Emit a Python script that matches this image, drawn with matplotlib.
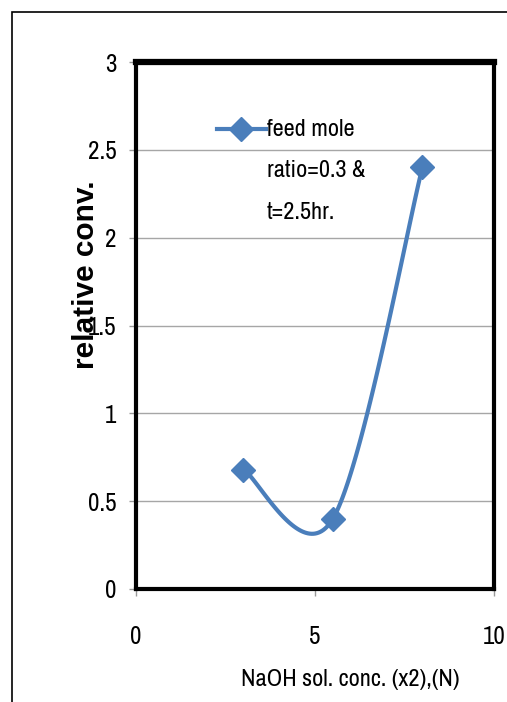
import numpy as np
import matplotlib
matplotlib.use("Agg")
import matplotlib.pyplot as plt
from matplotlib.legend_handler import HandlerLine2D
from matplotlib.patches import Rectangle

# NaOH concentration vs relative conversion
naoh_conc = [3.0, 5.5, 8.0]
rel_conv = [0.68, 0.40, 2.40]
series_label = "feed mole\nratio=0.3 &\nt=2.5hr."

x_ticks = [0, 5, 10]
y_ticks = [0, 0.5, 1, 1.5, 2, 2.5, 3]

narrow = ["Archivo Narrow", "DejaVu Sans"]
blue = "#4A7EBB"


def smooth_curve(xs, ys, n=60):
    # cubic bezier segments, tangents from neighbouring points (spreadsheet-style smoothing)
    pts = np.column_stack([xs, ys]).astype(float)
    out = []
    for i in range(len(pts) - 1):
        p0 = pts[max(i - 1, 0)]
        p1 = pts[i]
        p2 = pts[i + 1]
        p3 = pts[min(i + 2, len(pts) - 1)]
        c1 = p1 + (p2 - p0) / 6.0
        c2 = p2 - (p3 - p1) / 6.0
        t = np.linspace(0, 1, n)[:, None]
        seg = ((1 - t) ** 3) * p1 + 3 * ((1 - t) ** 2) * t * c1 + 3 * (1 - t) * t ** 2 * c2 + t ** 3 * p2
        out.append(seg if i == 0 else seg[1:])
    out = np.vstack(out)
    return out[:, 0], out[:, 1]


class TopLineHandler(HandlerLine2D):
    # put the legend key next to the first line of a multi-line label
    def create_artists(self, legend, orig_handle, xdescent, ydescent,
                       width, height, fontsize, trans):
        return super().create_artists(legend, orig_handle, xdescent, ydescent - 60,
                                      width, height, fontsize, trans)


fig = plt.figure(figsize=(5.07, 7.02), dpi=100)
ax = fig.add_axes([136 / 507, 1 - 589 / 702, 358 / 507, 527 / 702])

sx, sy = smooth_curve(naoh_conc, rel_conv)
ax.plot(sx, sy, color=blue, lw=3, solid_capstyle="round", zorder=3)
ax.plot(naoh_conc, rel_conv, ls="none", marker="D", ms=12.5, color=blue, zorder=4)
key, = ax.plot([], [], color=blue, lw=3, marker="D", ms=12.5, label=series_label)

ax.set_xlim(0, 10)
ax.set_ylim(0, 3)
ax.set_xticks(x_ticks)
ax.set_yticks(y_ticks)
ax.set_xticklabels([str(v) for v in x_ticks], family=narrow, fontsize=18)
ax.set_yticklabels([f"{v:g}" for v in y_ticks], family=narrow, fontsize=18)
ax.tick_params(axis="y", length=5, color="#999999", width=1, pad=9)
ax.tick_params(axis="x", length=5, color="#999999", width=1, pad=21)
ax.yaxis.grid(True, color="#a6a6a6", lw=1)
ax.set_axisbelow(True)

for side in ["left", "bottom", "right"]:
    ax.spines[side].set_linewidth(3)
ax.spines["top"].set_linewidth(4.5)

ax.set_xlabel("NaOH sol. conc. (x2),(N)", family=narrow, fontsize=17.5)
ax.xaxis.set_label_coords(0.598, -0.151)
# y axis title placed by its centre
ax.text(-0.140, 0.596, "relative conv.", transform=ax.transAxes, rotation=90,
        ha="center", va="center", family="Liberation Sans", fontweight="bold", fontsize=21.5)

ax.legend(handles=[key], loc="upper left", bbox_to_anchor=(0.226, 0.892),
          frameon=False, prop={"family": narrow, "size": 17.5},
          handlelength=2.0, handletextpad=0.05, borderpad=0, borderaxespad=0,
          handler_map={key: TopLineHandler(numpoints=1)})
leg = ax.get_legend()
for t in leg.get_texts():
    t.set_linespacing(2.2)

# chart frame
fig.patches.append(Rectangle((12 / 507, -0.2), 1.5, 1.2 - 12 / 702, transform=fig.transFigure,
                             fill=False, ec="black", lw=1.2))

fig.savefig("out.png", dpi=100)
